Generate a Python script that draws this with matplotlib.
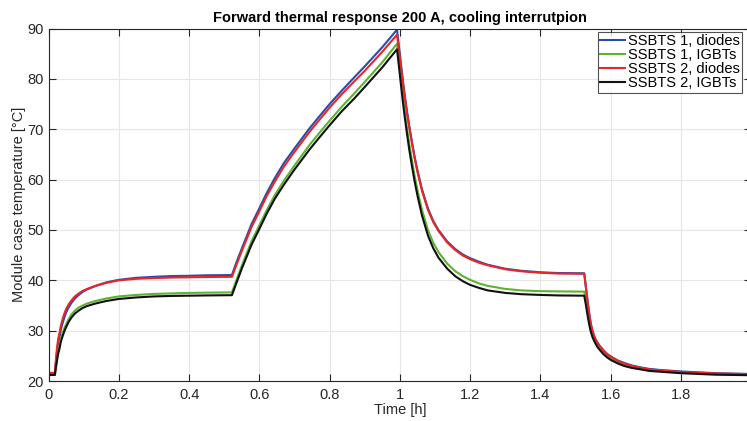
import matplotlib
matplotlib.use("Agg")
import matplotlib.pyplot as plt
import numpy as np

plt.rcParams['font.family'] = ['Liberation Sans', 'DejaVu Sans']

# time [h]  (heat-up | cooling lost | cooling back | power off)
t = [0, 0.018, 0.020, 0.024, 0.027, 0.031, 0.035, 0.04, 0.045, 0.05, 0.057, 0.065, 0.075,
     0.086, 0.097, 0.11, 0.134, 0.165, 0.2, 0.25, 0.3, 0.35, 0.4, 0.45, 0.522,
     0.535, 0.55, 0.578, 0.6, 0.62, 0.644, 0.67, 0.7, 0.743, 0.77, 0.8, 0.835, 0.87, 0.9,
     0.95, 0.992,
     1.0, 1.005, 1.01, 1.015, 1.02, 1.027, 1.035, 1.042, 1.05, 1.063, 1.08, 1.095, 1.11,
     1.135, 1.158, 1.18, 1.2, 1.225, 1.25, 1.3, 1.345, 1.4, 1.45, 1.525,
     1.53, 1.535, 1.54, 1.544, 1.548, 1.553, 1.558, 1.563, 1.57, 1.58, 1.59, 1.6, 1.62,
     1.638, 1.66, 1.686, 1.71, 1.74, 1.8, 1.9, 2.0]

ssbts1_diodes = [21.6, 21.6, 23.0, 25.8, 27.4, 28.6, 30.2, 31.5, 32.6, 33.6, 34.6, 35.5, 36.4,
                 37.1, 37.7, 38.2, 38.9, 39.6, 40.1, 40.5, 40.7, 40.85, 40.9, 41.0, 41.05,
                 43.6, 46.3, 51.2, 54.3, 57.2, 60.3, 63.3, 66.2, 70.2, 72.5, 75.0, 77.7, 80.3, 82.5,
                 86.3, 89.8,
                 85.0, 81.9, 79.0, 76.3, 73.8, 70.6, 67.3, 64.6, 61.9, 58.1, 54.3, 51.8, 50.0,
                 47.7, 46.2, 45.1, 44.4, 43.7, 43.1, 42.3, 41.9, 41.6, 41.45, 41.4,
                 38.5, 35.6, 33.0, 31.3, 30.1, 29.0, 28.2, 27.6, 26.9, 26.1, 25.4, 24.9, 24.1,
                 23.6, 23.1, 22.7, 22.4, 22.2, 21.9, 21.55, 21.4]

ssbts1_igbts = [21.2, 21.2, 22.5, 24.5, 25.9, 27.0, 28.4, 29.5, 30.5, 31.3, 32.3, 33.2, 34.0,
                34.6, 35.0, 35.4, 35.9, 36.4, 36.8, 37.1, 37.3, 37.4, 37.5, 37.55, 37.6,
                40.1, 42.9, 47.8, 50.9, 53.8, 56.9, 59.8, 62.8, 66.9, 69.2, 71.7, 74.5, 77.1, 79.4,
                83.3, 87.0,
                82.0, 78.8, 75.8, 73.0, 70.4, 67.0, 63.6, 60.8, 58.0, 54.0, 50.0, 47.5, 45.6,
                43.3, 41.8, 40.8, 40.1, 39.4, 38.9, 38.3, 38.0, 37.85, 37.8, 37.75,
                35.6, 33.5, 31.6, 30.3, 29.3, 28.4, 27.7, 27.1, 26.5, 25.7, 25.1, 24.6, 23.8,
                23.3, 22.9, 22.5, 22.2, 22.0, 21.7, 21.4, 21.3]

ssbts2_diodes = [21.6, 21.6, 23.5, 26.5, 28.2, 29.5, 31.0, 32.3, 33.4, 34.3, 35.2, 36.0, 36.8,
                 37.4, 37.9, 38.3, 38.9, 39.5, 40.0, 40.3, 40.45, 40.55, 40.6, 40.65, 40.7,
                 43.1, 45.8, 50.6, 53.7, 56.6, 59.6, 62.6, 65.5, 69.5, 71.8, 74.3, 77.0, 79.5, 81.6,
                 85.4, 88.8,
                 84.3, 81.3, 78.5, 75.9, 73.4, 70.3, 67.0, 64.3, 61.6, 57.8, 54.0, 51.6, 49.8,
                 47.5, 46.0, 44.9, 44.2, 43.5, 43.0, 42.2, 41.8, 41.5, 41.35, 41.3,
                 38.4, 35.5, 32.9, 31.2, 30.0, 28.9, 28.1, 27.5, 26.8, 26.0, 25.3, 24.8, 24.0,
                 23.5, 23.0, 22.6, 22.3, 22.1, 21.8, 21.5, 21.35]

ssbts2_igbts = [21.2, 21.2, 22.2, 24.0, 25.3, 26.4, 27.8, 28.9, 29.9, 30.7, 31.7, 32.6, 33.4,
                34.0, 34.5, 34.9, 35.4, 35.9, 36.3, 36.6, 36.8, 36.9, 36.95, 37.0, 37.05,
                39.5, 42.3, 47.1, 50.2, 53.1, 56.2, 59.0, 62.0, 66.0, 68.3, 70.8, 73.6, 76.1, 78.4,
                82.3, 85.9,
                80.9, 77.7, 74.7, 71.9, 69.3, 65.9, 62.5, 59.7, 56.9, 52.9, 48.9, 46.4, 44.5,
                42.3, 40.8, 39.8, 39.1, 38.5, 38.0, 37.5, 37.25, 37.1, 37.0, 36.95,
                35.0, 32.8, 30.9, 29.7, 28.8, 28.0, 27.3, 26.7, 26.1, 25.3, 24.7, 24.2, 23.5,
                23.0, 22.6, 22.3, 22.0, 21.85, 21.55, 21.25, 21.15]

labels = ['SSBTS 1, diodes', 'SSBTS 1, IGBTs', 'SSBTS 2, diodes', 'SSBTS 2, IGBTs']
colors = ['#2b4ba8', '#5db330', '#e8262a', '#111111']

fig = plt.figure(figsize=(7.47, 4.21), dpi=100)
ax = fig.add_axes([0.065, 0.095, 0.9405, 0.837])

for y, lab, c in zip([ssbts1_diodes, ssbts1_igbts, ssbts2_diodes, ssbts2_igbts], labels, colors):
    ax.plot(t, y, color=c, lw=1.5, label=lab)

ax.set_xlim(0, 2)
ax.set_ylim(20, 90)
ax.set_xticks(np.arange(0, 2.01, 0.2))
ax.set_xticklabels(['0', '0.2', '0.4', '0.6', '0.8', '1', '1.2', '1.4', '1.6', '1.8', '2'])
ax.set_yticks(range(20, 91, 10))
ax.grid(True, color='#e6e6e6', lw=0.8)
ax.set_axisbelow(True)
ax.tick_params(direction='in', top=True, right=True, length=5, width=0.8,
               colors='#262626', labelsize=10.5)
ax.tick_params(axis='x', pad=5)
for s in ax.spines.values():
    s.set_color('#262626')
    s.set_linewidth(0.8)

ax.set_xlabel('Time [h]', fontsize=10.5, color='#262626', labelpad=1)
ax.set_ylabel('Module case temperature [\u00b0C]', fontsize=10.5, color='#262626', labelpad=1)
ax.set_title('Forward thermal response 200 A, cooling interrutpion', fontsize=10.5,
             fontweight='bold', pad=5)

leg = ax.legend(loc='upper right', bbox_to_anchor=(0.9865, 0.990), borderaxespad=0,
                fontsize=10.5, frameon=True, fancybox=False, handlelength=1.7,
                handletextpad=0.2, borderpad=0.15, labelspacing=0.0)
leg.get_frame().set_edgecolor('#262626')
leg.get_frame().set_linewidth(0.8)

fig.savefig('out.png', dpi=100)
